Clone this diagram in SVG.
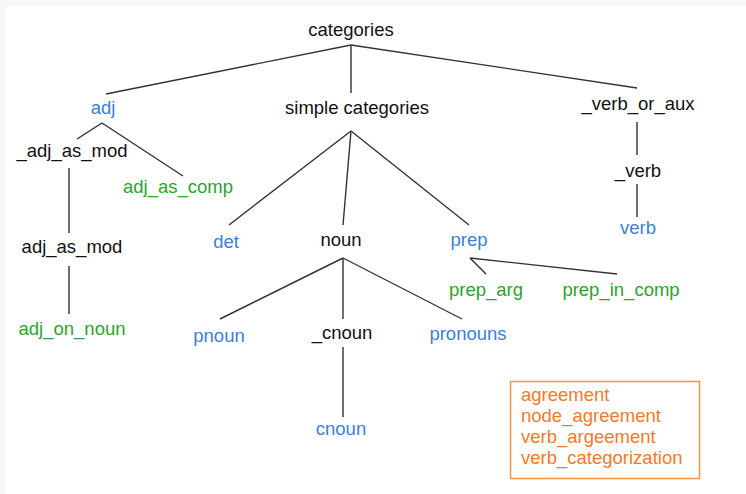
<svg xmlns="http://www.w3.org/2000/svg" width="746" height="494" viewBox="0 0 746 494">
<style>
text{font-family:"Liberation Sans",Arial,sans-serif;font-size:18.5px;text-anchor:middle}
.k{fill:#111}
.b{fill:#3a7fd8}
.g{fill:#2aa52a}
.o{fill:#f57a28;text-anchor:start}
.e line{stroke:#333;stroke-width:1.4}
</style>
<rect width="746" height="494" fill="#ffffff"/>
<rect width="746" height="6" fill="#f7f7f7"/>
<rect width="5" height="494" fill="#f7f7f7"/>
<g id="connectors" class="e">
<line x1="351" y1="45" x2="106" y2="94"/>
<line x1="351" y1="45" x2="351" y2="93"/>
<line x1="351" y1="45" x2="637" y2="88"/>
<line x1="102" y1="123" x2="77" y2="139"/>
<line x1="102" y1="123" x2="183" y2="176"/>
<line x1="69" y1="168" x2="69" y2="233"/>
<line x1="69" y1="266" x2="69" y2="314"/>
<line x1="351" y1="131" x2="229" y2="225"/>
<line x1="351" y1="131" x2="343" y2="225"/>
<line x1="351" y1="131" x2="469" y2="225"/>
<line x1="343" y1="258" x2="220" y2="319"/>
<line x1="343" y1="258" x2="343" y2="319"/>
<line x1="343" y1="258" x2="462" y2="319"/>
<line x1="343" y1="347" x2="343" y2="417"/>
<line x1="637" y1="122" x2="637" y2="155"/>
<line x1="637" y1="184" x2="637" y2="217"/>
<line x1="470" y1="258" x2="486" y2="274"/>
<line x1="470" y1="258" x2="617" y2="274"/>
</g>
<g id="n-categories"><text class="k" x="351" y="36">categories</text></g>
<g id="n-adj"><text class="b" x="103" y="114">adj</text></g>
<g id="n-simple"><text class="k" x="357" y="114">simple categories</text></g>
<g id="n-verb_or_aux"><text class="k" x="638" y="110">_verb_or_aux</text></g>
<g id="n-_adj_as_mod"><text class="k" x="72" y="157">_adj_as_mod</text></g>
<g id="n-adj_as_comp"><text class="g" x="178" y="193">adj_as_comp</text></g>
<g id="n-_verb"><text class="k" x="638" y="177">_verb</text></g>
<g id="n-det"><text class="b" x="226" y="248">det</text></g>
<g id="n-noun"><text class="k" x="341" y="246">noun</text></g>
<g id="n-prep"><text class="b" x="469" y="246">prep</text></g>
<g id="n-verb"><text class="b" x="638" y="234">verb</text></g>
<g id="n-adj_as_mod"><text class="k" x="72" y="253">adj_as_mod</text></g>
<g id="n-prep_arg"><text class="g" x="486" y="296">prep_arg</text></g>
<g id="n-prep_in_comp"><text class="g" x="621" y="296">prep_in_comp</text></g>
<g id="n-pnoun"><text class="b" x="219" y="342">pnoun</text></g>
<g id="n-_cnoun"><text class="k" x="342" y="339">_cnoun</text></g>
<g id="n-pronouns"><text class="b" x="468" y="340">pronouns</text></g>
<g id="n-adj_on_noun"><text class="g" x="72" y="335">adj_on_noun</text></g>
<g id="n-cnoun"><text class="b" x="341" y="435">cnoun</text></g>
<g id="n-legend">
<rect x="510.5" y="381.5" width="189" height="97" fill="none" stroke="#f7924a" stroke-width="1.5"/>
<text class="o" x="521" y="401">agreement</text>
<text class="o" x="521" y="422">node_agreement</text>
<text class="o" x="521" y="443">verb_argeement</text>
<text class="o" x="521" y="464">verb_categorization</text>
</g>
</svg>
